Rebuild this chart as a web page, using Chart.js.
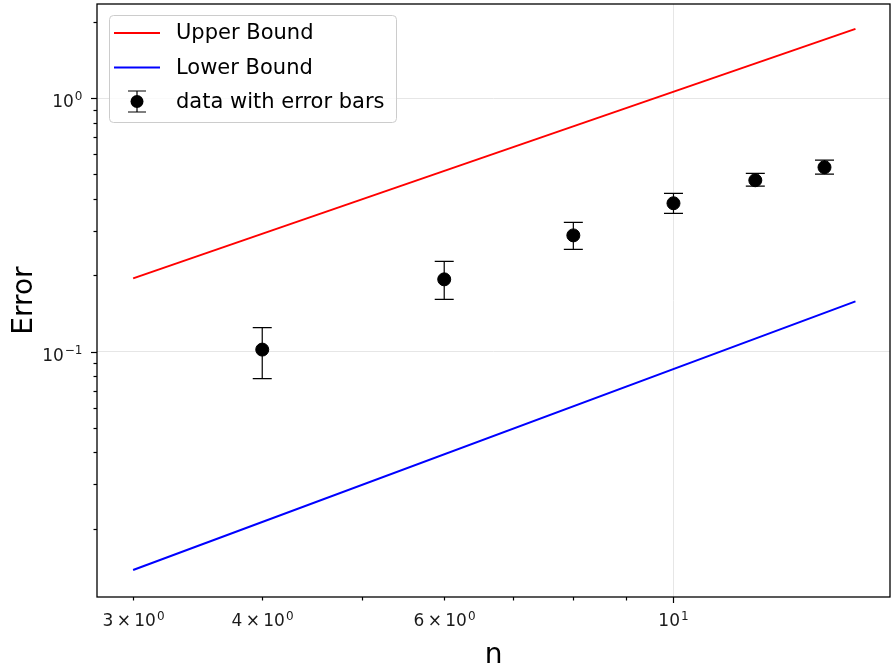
<!DOCTYPE html>
<html>
<head>
<meta charset="utf-8">
<script src="https://cdn.jsdelivr.net/npm/chart.js@4"></script>
<style>
  body { margin: 0; background: #fff; }
  canvas { display: block; }
</style>
</head>
<body>
<canvas id="errChart" width="891" height="667"></canvas>
<script>
// data
const nValues = [4, 6, 8, 10, 12, 14];
const errMean = [0.1018, 0.1927, 0.2873, 0.3846, 0.474, 0.5335];
const errLow = [0.0782, 0.1606, 0.2531, 0.351, 0.449, 0.501];
const errHigh = [0.1244, 0.227, 0.3236, 0.421, 0.505, 0.569];

const boundN = [3, 15];
const upperBound = [0.1945, 1.875];
const lowerBound = [0.01375, 0.1577];

// tick values, labels written as base^exponent
const xTicks = [3, 4, 5, 6, 7, 8, 9, 10];
const xTickLabels = ['3\u2009×\u200910^0', '4\u2009×\u200910^0', '', '6\u2009×\u200910^0', '', '', '', '10^1'];
const yTicks = [0.02, 0.03, 0.04, 0.05, 0.06, 0.07, 0.08, 0.09,
                0.1, 0.2, 0.3, 0.4, 0.5, 0.6, 0.7, 0.8, 0.9, 1, 2];
const yTickLabels = ['', '', '', '', '', '', '', '',
                     '10^\u22121', '', '', '', '', '', '', '', '', '10^0', ''];

const FONT = "'DejaVu Sans', sans-serif";

function isDecade(v) {
    const l = Math.log10(v);
    return Math.abs(l - Math.round(l)) < 1e-9;
}

// error bars under the markers
const errorBars = {
    id: 'errorBars',
    beforeDatasetsDraw(chart) {
        const {ctx, scales: {x, y}} = chart;
        ctx.save();
        ctx.strokeStyle = '#000';
        ctx.lineWidth = 1.2;
        nValues.forEach((n, i) => {
            const px = x.getPixelForValue(n);
            const top = y.getPixelForValue(errHigh[i]);
            const bot = y.getPixelForValue(errLow[i]);
            ctx.beginPath();
            ctx.moveTo(px, top); ctx.lineTo(px, bot);
            ctx.moveTo(px - 9.5, top); ctx.lineTo(px + 9.5, top);
            ctx.moveTo(px - 9.5, bot); ctx.lineTo(px + 9.5, bot);
            ctx.stroke();
        });
        ctx.restore();
    }
};

// draws "base^exp" with a raised smaller exponent
function drawPow(ctx, label, px, baseline, align) {
    const [base, exp] = label.split('^');
    ctx.font = '17px ' + FONT;
    const wb = ctx.measureText(base).width;
    ctx.font = '12px ' + FONT;
    const we = ctx.measureText(exp).width;
    const total = wb + 1 + we;
    let left = align === 'right' ? px - total : px - total / 2;
    ctx.textAlign = 'left';
    ctx.textBaseline = 'alphabetic';
    ctx.font = '17px ' + FONT;
    ctx.fillText(base, left, baseline);
    ctx.font = '12px ' + FONT;
    ctx.fillText(exp, left + wb + 1, baseline - 6.5);
}

// frame, tick marks, tick labels and legend
const decorations = {
    id: 'decorations',
    afterDraw(chart) {
        const {ctx, chartArea: a, scales: {x, y}} = chart;
        ctx.save();
        ctx.strokeStyle = '#000';
        ctx.fillStyle = '#1a1a1a';
        ctx.lineWidth = 1.2;
        xTicks.forEach((v, i) => {
            const px = Math.round(x.getPixelForValue(v)) + 0.5;
            const len = isDecade(v) ? 6 : 3.5;
            ctx.beginPath(); ctx.moveTo(px, a.bottom); ctx.lineTo(px, a.bottom + len); ctx.stroke();
            if (xTickLabels[i]) drawPow(ctx, xTickLabels[i], px, a.bottom + 29, 'center');
        });
        yTicks.forEach((v, i) => {
            const py = Math.round(y.getPixelForValue(v)) + 0.5;
            const len = isDecade(v) ? 6 : 3.5;
            ctx.beginPath(); ctx.moveTo(a.left, py); ctx.lineTo(a.left - len, py); ctx.stroke();
            if (yTickLabels[i]) drawPow(ctx, yTickLabels[i], a.left - 14.5, py + 8.3, 'right');
        });
        ctx.lineWidth = 1.3;
        ctx.strokeRect(a.left, a.top, a.right - a.left, a.bottom - a.top);

        // legend box
        const bx = 109, by = 15, bw = 287, bh = 107;
        ctx.beginPath();
        ctx.roundRect(bx + 0.5, by + 0.5, bw, bh, 4);
        ctx.fillStyle = 'rgba(255,255,255,0.8)';
        ctx.fill();
        ctx.strokeStyle = '#cccccc';
        ctx.lineWidth = 1;
        ctx.stroke();

        const rows = [33, 67.5, 101.5];
        ctx.font = '21px ' + FONT;
        ctx.textAlign = 'left';
        ctx.textBaseline = 'middle';
        ctx.fillStyle = '#000';
        chart.data.datasets.forEach((ds, i) => {
            const ry = rows[i];
            if (i < 2) {
                ctx.strokeStyle = ds.borderColor;
                ctx.lineWidth = 2;
                ctx.beginPath(); ctx.moveTo(114, ry); ctx.lineTo(160, ry); ctx.stroke();
            } else {
                ctx.strokeStyle = '#000';
                ctx.lineWidth = 1.2;
                ctx.beginPath();
                ctx.moveTo(137, ry - 10.5); ctx.lineTo(137, ry + 10.5);
                ctx.moveTo(128, ry - 10.5); ctx.lineTo(146, ry - 10.5);
                ctx.moveTo(128, ry + 10.5); ctx.lineTo(146, ry + 10.5);
                ctx.stroke();
                ctx.beginPath(); ctx.arc(137, ry, 6.5, 0, Math.PI * 2); ctx.fill();
            }
            ctx.fillText(ds.label, 176, ry + 1);
        });
        ctx.restore();
    }
};

const ctx = document.getElementById('errChart').getContext('2d');

const chart = new Chart(ctx, {
    type: 'line',
    data: {
        datasets: [
            {
                label: 'Upper Bound',
                data: boundN.map((n, i) => ({x: n, y: upperBound[i]})),
                borderColor: '#ff0000',
                borderWidth: 2,
                pointRadius: 0
            },
            {
                label: 'Lower Bound',
                data: boundN.map((n, i) => ({x: n, y: lowerBound[i]})),
                borderColor: '#0000ff',
                borderWidth: 2,
                pointRadius: 0
            },
            {
                label: 'data with error bars',
                data: nValues.map((n, i) => ({x: n, y: errMean[i]})),
                showLine: false,
                pointRadius: 6.5,
                pointBackgroundColor: '#000',
                pointBorderColor: '#000',
                borderColor: '#000'
            }
        ]
    },
    options: {
        responsive: false,
        animation: false,
        layout: { autoPadding: false, padding: { top: 4, right: 1, left: 0, bottom: 0 } },
        plugins: {
            legend: { display: false },
            tooltip: { enabled: false }
        },
        scales: {
            x: {
                type: 'logarithmic',
                min: 2.768,
                max: 16.2,
                afterBuildTicks: s => { s.ticks = xTicks.map(v => ({value: v})); },
                afterFit: s => { s.height = 70; s.paddingLeft = 0; s.paddingRight = 0; },
                grid: {
                    drawTicks: false,
                    color: c => (c.tick && isDecade(c.tick.value)) ? '#e6e6e6' : 'rgba(0,0,0,0)'
                },
                border: { display: false },
                ticks: { display: false },
                title: {
                    display: true,
                    text: 'n',
                    color: '#000',
                    font: { family: FONT, size: 28 },
                    padding: { top: 0, bottom: -6 }
                }
            },
            y: {
                type: 'logarithmic',
                min: 0.01076,
                max: 2.35,
                afterBuildTicks: s => { s.ticks = yTicks.map(v => ({value: v})); },
                afterFit: s => { s.width = 97; s.paddingTop = 0; s.paddingBottom = 0; },
                grid: {
                    drawTicks: false,
                    color: c => (c.tick && isDecade(c.tick.value)) ? '#e6e6e6' : 'rgba(0,0,0,0)'
                },
                border: { display: false },
                ticks: { display: false },
                title: {
                    display: true,
                    text: 'Error',
                    color: '#000',
                    font: { family: FONT, size: 28 },
                    padding: { top: 8, bottom: 0 }
                }
            }
        }
    },
    plugins: [errorBars, decorations]
});
</script>
</body>
</html>
